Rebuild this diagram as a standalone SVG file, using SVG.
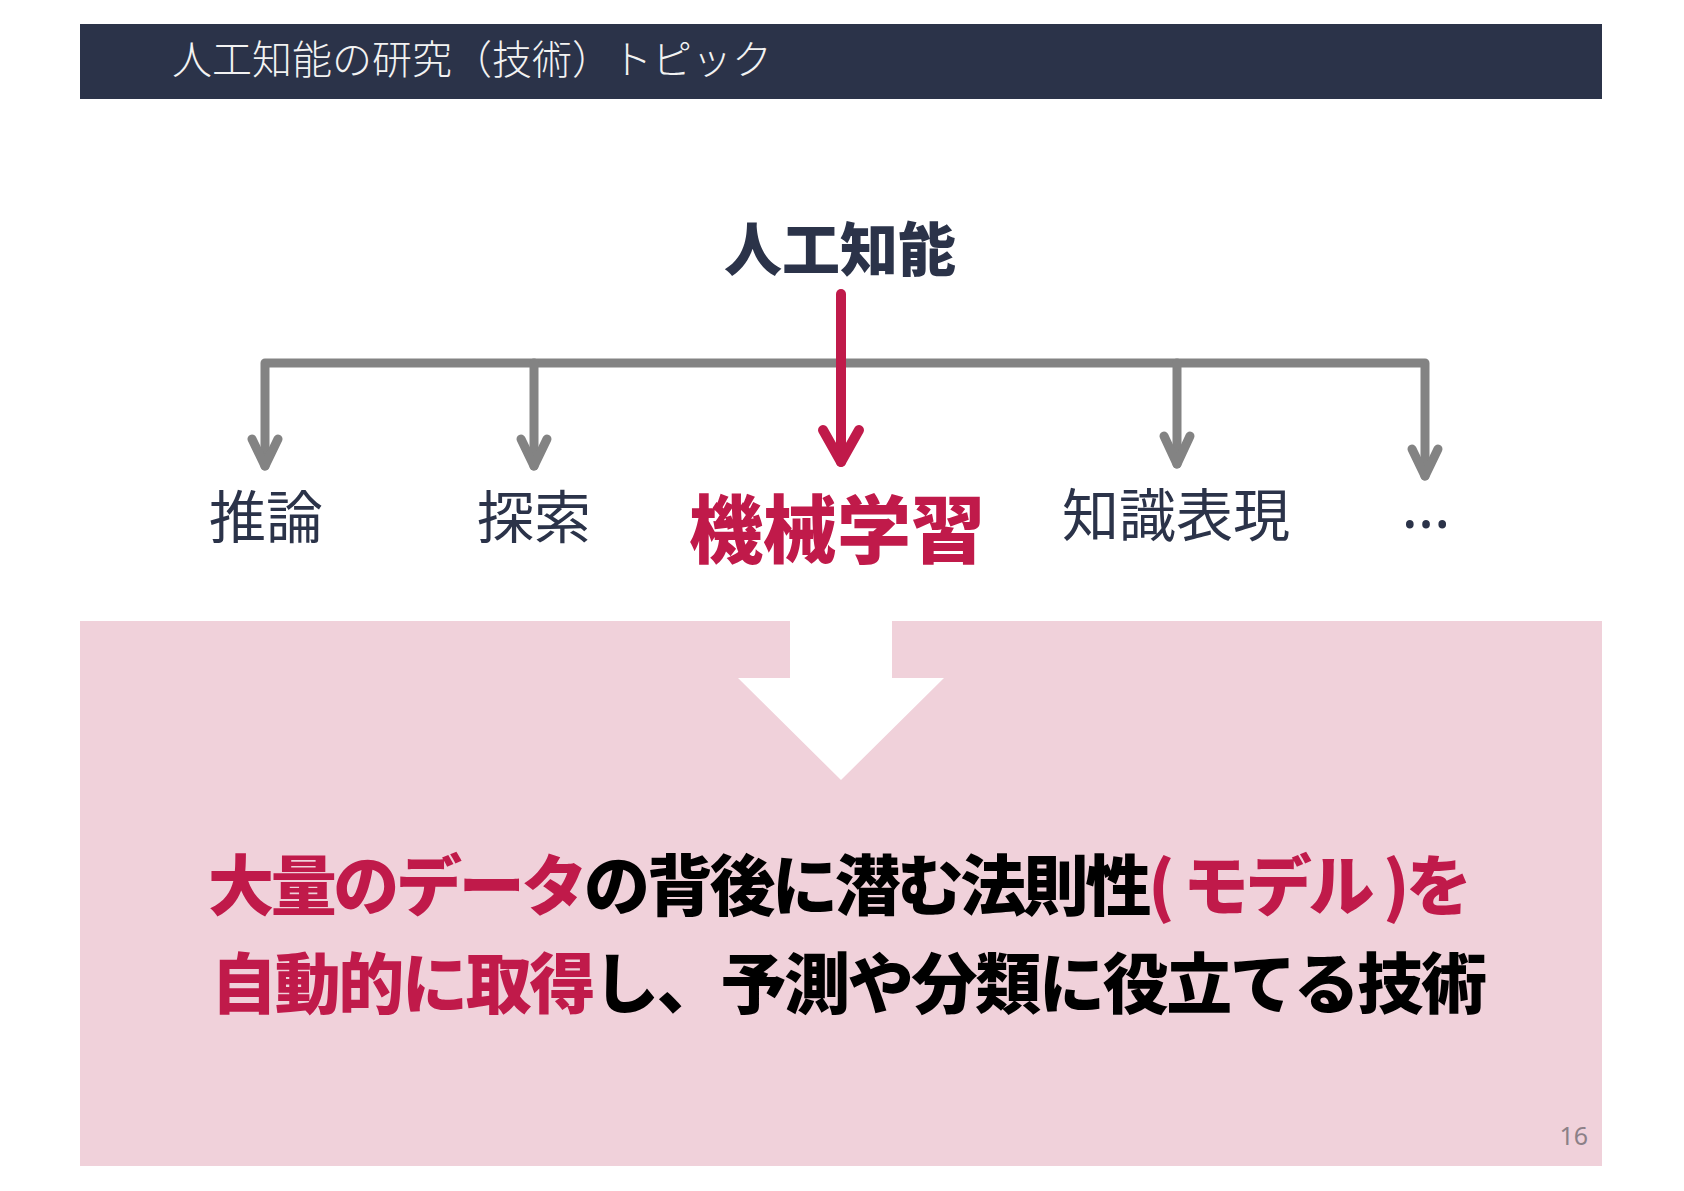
<svg xmlns="http://www.w3.org/2000/svg" width="1684" height="1191" viewBox="0 0 1684 1191">
  <style>
    .jp { font-family: "Noto Sans CJK JP", "Noto Sans", sans-serif; }
    .navy { fill: #2b3349; }
    .red { fill: #c01a4a; }
    .blk { fill: #000000; }
    .gray-conn { fill: none; stroke: #838383; stroke-width: 9; stroke-linecap: round; stroke-linejoin: round; }
    .red-conn { fill: none; stroke: #c01a4a; stroke-width: 10; stroke-linecap: round; stroke-linejoin: round; }
  </style>
  <rect x="0" y="0" width="1684" height="1191" fill="#ffffff"/>

  <g id="header">
    <rect x="80" y="24" width="1522" height="75" fill="#2b3349"/>
    <text class="jp" x="172" y="74" font-size="40" font-weight="300" fill="#f2f2f2">人工知能の研究（技術）トピック</text>
  </g>

  <g id="node-ai">
    <text class="jp navy" x="840" y="271" font-size="58" font-weight="900" text-anchor="middle">人工知能</text>
  </g>

  <g id="connectors">
    <path class="gray-conn" d="M265 466 V363 H1425 V476"/>
    <path class="gray-conn" d="M534 363 V466"/>
    <path class="gray-conn" d="M1177 363 V464"/>
    <path class="gray-conn" d="M252 439 L265 466 L278 439"/>
    <path class="gray-conn" d="M521 439 L534 466 L547 439"/>
    <path class="gray-conn" d="M1164 436 L1177 464 L1190 436"/>
    <path class="gray-conn" d="M1412 449 L1425 476 L1438 449"/>
    <path class="red-conn" d="M841 294 V462"/>
    <path class="red-conn" d="M823 430 L841 462 L859 430"/>
  </g>

  <g id="node-inference">
    <text class="jp navy" x="266" y="538" font-size="57" font-weight="400" text-anchor="middle">推論</text>
  </g>
  <g id="node-search">
    <text class="jp navy" x="534" y="538" font-size="57" font-weight="400" text-anchor="middle">探索</text>
  </g>
  <g id="node-ml">
    <text class="jp red" x="837" y="557" font-size="74" font-weight="900" text-anchor="middle">機械学習</text>
  </g>
  <g id="node-knowledge">
    <text class="jp navy" x="1176" y="536" font-size="57" font-weight="400" text-anchor="middle">知識表現</text>
  </g>
  <g id="node-etc">
    <text x="1426" y="528" font-family="'Noto Sans', sans-serif" font-size="62" fill="#2b3349" text-anchor="middle">…</text>
  </g>

  <g id="panel">
    <rect x="80" y="621" width="1522" height="545" fill="#f0d1da"/>
    <polygon points="790,621 892,621 892,678 944,678 841,780 738,678 790,678" fill="#ffffff"/>
    <text class="jp" x="208" y="910" font-size="66" font-weight="900" textLength="1264" lengthAdjust="spacing"><tspan class="red">大量のデータ</tspan><tspan class="blk">の背後に潜む法則性</tspan><tspan class="red">( モデル )を</tspan></text>
    <text class="jp" x="211" y="1008" font-size="66" font-weight="900" textLength="1276" lengthAdjust="spacing"><tspan class="red">自動的に取得</tspan><tspan class="blk">し、予測や分類に役立てる技術</tspan></text>
    <text x="1588" y="1145" font-family="'Noto Sans', sans-serif" font-size="25" fill="#8c8087" text-anchor="end">16</text>
  </g>
</svg>
